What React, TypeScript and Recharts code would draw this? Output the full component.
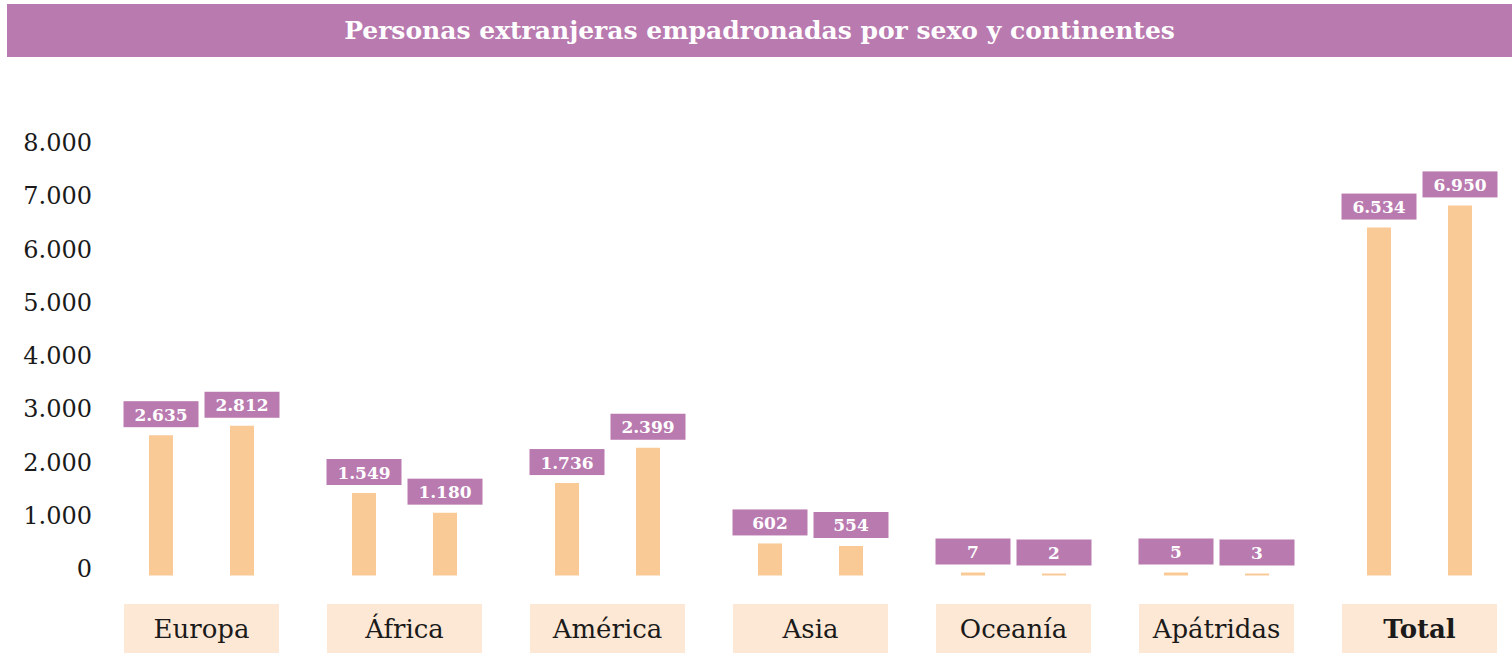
import React from 'react';
import { BarChart, Bar, XAxis, YAxis, LabelList } from 'recharts';

const categories = ['Europa', 'África', 'América', 'Asia', 'Oceanía', 'Apátridas', 'Total'];
const hombres = [2635, 1549, 1736, 602, 7, 5, 6534];
const mujeres = [2812, 1180, 2399, 554, 2, 3, 6950];
const yTicks = [0, 1000, 2000, 3000, 4000, 5000, 6000, 7000, 8000];

const data = categories.map((name, i) => ({ name, hombres: hombres[i], mujeres: mujeres[i] }));

const PURPLE = '#b97ab0';
const PEACH = '#f9ca96';
const CAT_BG = '#fde8d5';
const SERIF = '"DejaVu Serif", "Liberation Serif", serif';

const fmt = (v: number) => v.toLocaleString('de-DE');

const YTick = (props: any) => {
  const { x, y, payload } = props;
  return (
    <text x={x} y={y - 6.5} textAnchor="end" dominantBaseline="central" fontFamily={SERIF} fontSize={24} fill="#1a1a1a">
      {fmt(payload.value)}
    </text>
  );
};

const XTick = (props: any) => {
  const { x, y, payload } = props;
  const bold = payload.value === 'Total';
  return (
    <g>
      <rect x={x - 77.5} y={y + 28.5} width={155} height={50} fill={CAT_BG} />
      <text
        x={x}
        y={y + 53}
        textAnchor="middle"
        dominantBaseline="central"
        fontFamily={SERIF}
        fontSize={26}
        fontWeight={bold ? 700 : 400}
        fill="#1a1a1a"
      >
        {payload.value}
      </text>
    </g>
  );
};

const ValueBox = (props: any) => {
  const { x, y, width, value } = props;
  const cx = x + width / 2;
  const bottom = y - 8;
  return (
    <g>
      <rect x={cx - 37.5} y={bottom - 26} width={75} height={26} fill={PURPLE} />
      <text
        x={cx}
        y={bottom - 12.5}
        textAnchor="middle"
        dominantBaseline="central"
        fontFamily={SERIF}
        fontSize={17}
        fontWeight={700}
        fill="#ffffff"
      >
        {fmt(value)}
      </text>
    </g>
  );
};

export default function App() {
  return (
    <div style={{ position: 'absolute', left: 0, top: 0, width: 1512, height: 653, overflow: 'hidden', background: '#fff' }}>
      <div
        style={{
          position: 'absolute',
          left: 7,
          top: 4,
          width: 1505,
          height: 53,
          background: PURPLE,
          color: '#fff',
          fontFamily: SERIF,
          fontWeight: 700,
          fontSize: 25,
          lineHeight: '53px',
          textAlign: 'center',
        }}
      >
        Personas extranjeras empadronadas por sexo y continentes
      </div>
      <div style={{ position: 'absolute', left: 0, top: 0 }}>
        <BarChart
          width={1522}
          height={653}
          data={data}
          margin={{ top: 149.5, right: 1, bottom: 0, left: 0 }}
          barSize={24}
          barGap={57}
        >
          <XAxis
            dataKey="name"
            axisLine={false}
            tickLine={false}
            tickSize={0}
            tickMargin={0}
            height={77.5}
            interval={0}
            tick={<XTick />}
          />
          <YAxis
            domain={[0, 8000]}
            ticks={yTicks}
            axisLine={false}
            tickLine={false}
            width={100}
            interval={0}
            tick={<YTick />}
          />
          <Bar dataKey="hombres" fill={PEACH} minPointSize={3} isAnimationActive={false}>
            <LabelList dataKey="hombres" content={<ValueBox />} />
          </Bar>
          <Bar dataKey="mujeres" fill={PEACH} minPointSize={2} isAnimationActive={false}>
            <LabelList dataKey="mujeres" content={<ValueBox />} />
          </Bar>
        </BarChart>
      </div>
    </div>
  );
}
